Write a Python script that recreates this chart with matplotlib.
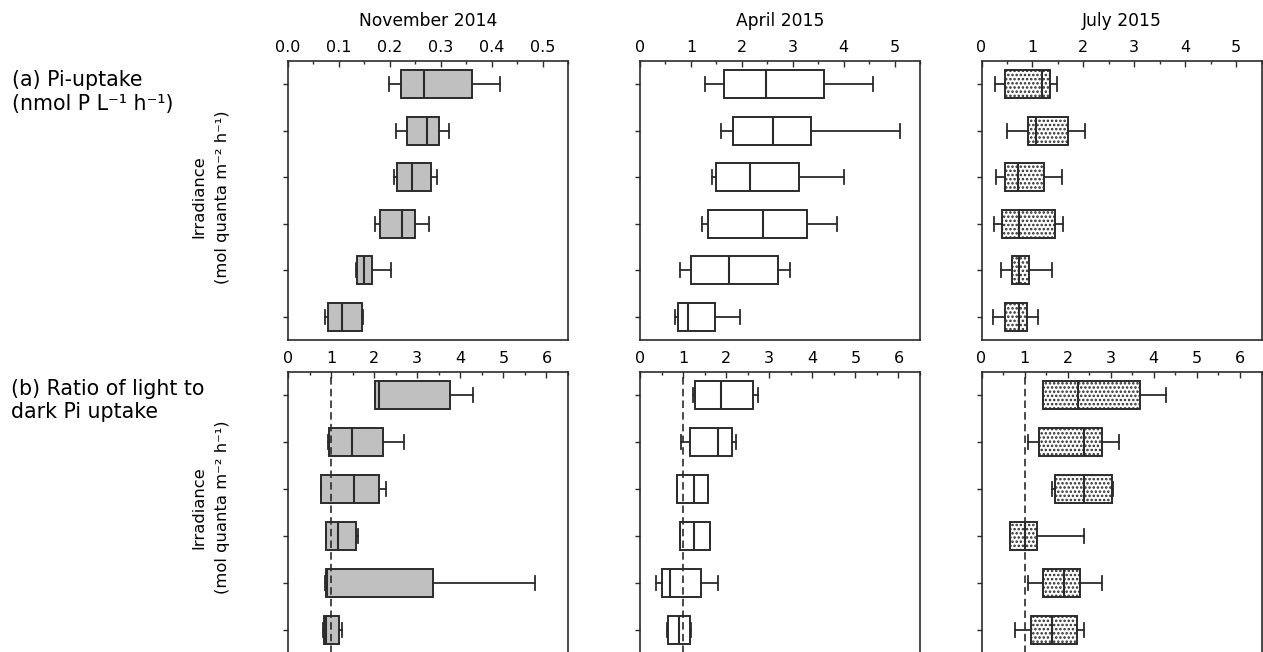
import matplotlib
matplotlib.use("Agg")
import matplotlib.pyplot as plt
from matplotlib.ticker import MultipleLocator, FormatStrFormatter

plt.rcParams["font.family"] = ["DejaVu Sans"]
plt.rcParams["hatch.linewidth"] = 1.2

# ---- data: five-number summaries (whisker low, Q1, median, Q3, whisker high)
# ---- one tuple per irradiance level, highest level first
months = ["November 2014", "April 2015", "July 2015"]

uptake_nov = [
    (0.199, 0.222, 0.267, 0.361, 0.417),
    (0.213, 0.233, 0.273, 0.297, 0.317),
    (0.209, 0.214, 0.244, 0.280, 0.293),
    (0.171, 0.180, 0.223, 0.249, 0.276),
    (0.133, 0.135, 0.150, 0.165, 0.203),
    (0.072, 0.078, 0.107, 0.145, 0.148),
]
uptake_apr = [
    (1.27, 1.65, 2.47, 3.61, 4.58),
    (1.60, 1.82, 2.61, 3.35, 5.10),
    (1.41, 1.50, 2.16, 3.13, 4.01),
    (1.21, 1.34, 2.42, 3.28, 3.86),
    (0.79, 1.00, 1.75, 2.72, 2.95),
    (0.69, 0.74, 0.94, 1.48, 1.97),
]
uptake_jul = [
    (0.27, 0.47, 1.19, 1.34, 1.48),
    (0.50, 0.92, 1.08, 1.69, 2.03),
    (0.29, 0.46, 0.71, 1.23, 1.59),
    (0.24, 0.40, 0.73, 1.44, 1.61),
    (0.39, 0.60, 0.74, 0.93, 1.39),
    (0.22, 0.46, 0.74, 0.90, 1.10),
]
ratio_nov = [
    (2.01, 2.03, 2.12, 3.76, 4.30),
    (0.93, 0.96, 1.49, 2.21, 2.69),
    (0.76, 0.77, 1.54, 2.11, 2.27),
    (0.88, 0.89, 1.15, 1.59, 1.63),
    (0.86, 0.88, 0.90, 3.37, 5.74),
    (0.81, 0.83, 0.88, 1.18, 1.25),
]
ratio_apr = [
    (1.22, 1.27, 1.87, 2.63, 2.73),
    (0.96, 1.16, 1.80, 2.14, 2.24),
    (0.87, 0.87, 1.26, 1.59, 1.59),
    (0.92, 0.92, 1.26, 1.62, 1.62),
    (0.36, 0.50, 0.70, 1.42, 1.80),
    (0.63, 0.64, 0.90, 1.16, 1.18),
]
ratio_jul = [
    (1.42, 1.42, 2.23, 3.69, 4.28),
    (1.08, 1.34, 2.37, 2.79, 3.20),
    (1.64, 1.70, 2.37, 3.03, 3.05),
    (0.67, 0.67, 1.02, 1.29, 2.38),
    (1.07, 1.42, 1.91, 2.28, 2.79),
    (0.78, 1.15, 1.64, 2.22, 2.38),
]

uptake_xmax = [0.55, 5.5, 5.5]
uptake_xstep = [0.1, 1.0, 1.0]
ratio_xmax = [6.5, 6.5, 6.5]
ratio_xstep = [1.0, 1.0, 1.0]
reference_ratio = 1.0

# ---- styling
W, H = 1263, 652
fig = plt.figure(figsize=(W / 100, H / 100), dpi=100)

LINE = "#2b2b2b"
fills = ["#c0c0c0", "white", "white"]
hatches = [None, None, "...."]
col_left = [288, 640, 981.5]
col_width = 280
row_top = [61, 372]
row_bottom = [340, 653]


def px_axes(left, top, right, bottom):
    return fig.add_axes([left / W, 1 - bottom / H, (right - left) / W, (bottom - top) / H])


def draw_panel(ax, summaries, fill, hatch, xmax, xstep, fmt, dashed=False):
    n = len(summaries)
    positions = list(range(n, 0, -1))
    stats = [
        dict(whislo=lo, q1=q1, med=med, q3=q3, whishi=hi, fliers=[])
        for lo, q1, med, q3, hi in summaries
    ]
    boxprops = dict(facecolor=fill, edgecolor=LINE, linewidth=1.4)
    if hatch:
        boxprops["hatch"] = hatch
    ax.bxp(
        stats,
        positions=positions,
        widths=0.6,
        orientation="horizontal",
        patch_artist=True,
        showfliers=False,
        capwidths=0.3,
        boxprops=boxprops,
        medianprops=dict(color=LINE, linewidth=1.5),
        whiskerprops=dict(color=LINE, linewidth=1.3),
        capprops=dict(color=LINE, linewidth=1.3),
    )
    if dashed:
        ax.axvline(reference_ratio, color=LINE, linewidth=1.2, dashes=(4.5, 2.5), zorder=2.05)
    ax.set_xlim(0, xmax)
    ax.set_ylim(0.5, n + 0.5)
    ax.xaxis.set_major_locator(MultipleLocator(xstep))
    ax.xaxis.set_minor_locator(MultipleLocator(xstep / 2))
    ax.xaxis.set_major_formatter(FormatStrFormatter(fmt))
    ax.set_yticks(positions)
    ax.set_yticklabels([])
    ax.tick_params(axis="x", which="both", direction="in", top=True, bottom=False,
                   labeltop=True, labelbottom=False, color=LINE, width=1.0)
    ax.tick_params(axis="x", which="major", length=4.5, pad=4.2, labelsize=11.5)
    ax.tick_params(axis="x", which="minor", length=2.5)
    ax.tick_params(axis="y", which="both", direction="out", left=True, right=False,
                   length=3.5, width=1.0, color=LINE)
    for s in ax.spines.values():
        s.set_color(LINE)
        s.set_linewidth(1.2)


uptake_sets = [uptake_nov, uptake_apr, uptake_jul]
ratio_sets = [ratio_nov, ratio_apr, ratio_jul]

for i in range(3):
    ax = px_axes(col_left[i], row_top[0], col_left[i] + col_width, row_bottom[0])
    fmt = "%.1f" if uptake_xstep[i] < 1 else "%d"
    draw_panel(ax, uptake_sets[i], fills[i], hatches[i], uptake_xmax[i], uptake_xstep[i], fmt)
    fig.text((col_left[i] + col_width / 2) / W, 1 - 26 / H, months[i],
             ha="center", va="baseline", fontsize=12.3)

    ax = px_axes(col_left[i], row_top[1], col_left[i] + col_width, row_bottom[1])
    draw_panel(ax, ratio_sets[i], fills[i], hatches[i], ratio_xmax[i], ratio_xstep[i], "%d",
               dashed=True)

# row headings
fig.text(12 / W, 1 - 86.5 / H, "(a) Pi-uptake", ha="left", va="baseline", fontsize=14.8)
fig.text(12 / W, 1 - 110 / H, "(nmol P L\u207b\u00b9 h\u207b\u00b9)", ha="left", va="baseline",
         fontsize=14.8)
fig.text(11 / W, 1 - 395 / H, "(b) Ratio of light to", ha="left", va="baseline", fontsize=14.8)
fig.text(11 / W, 1 - 418.5 / H, "dark Pi uptake", ha="left", va="baseline", fontsize=14.8)

# irradiance axis titles
for yc in (197, 507.5):
    fig.text(199 / W, 1 - yc / H, "Irradiance", rotation=90, ha="center", va="center",
             fontsize=11.8)
    fig.text(223 / W, 1 - yc / H, "(mol quanta m\u207b\u00b2 h\u207b\u00b9)", rotation=90,
             ha="center", va="center", fontsize=11.8)

fig.savefig("out.png", dpi=100)
